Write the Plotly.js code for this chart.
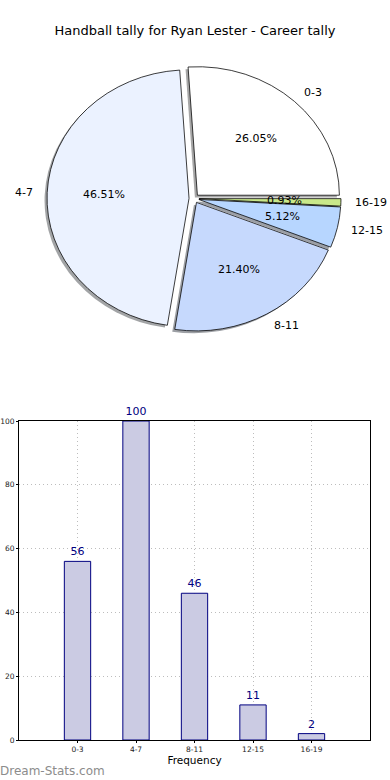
<!DOCTYPE html>
<html>
<head>
<meta charset="utf-8">
<script src="https://cdn.plot.ly/plotly-3.0.1.min.js"></script>
<style>html,body{margin:0;padding:0;background:#fff;}#chart{width:390px;height:780px;}</style>
</head>
<body>
<div id="chart"></div>
<script>
// ---- data ----
var titleText = 'Handball tally for Ryan Lester - Career tally';
var categories = ['0-3', '4-7', '8-11', '12-15', '16-19'];
var counts = [56, 100, 46, 11, 2];
var pieColors = ['#ffffff', '#ebf2ff', '#c6d9fd', '#b7d6ff', '#c9e88a'];
var shadowColors = ['rgba(77,77,77,0.5)', 'rgba(70,73,77,0.5)', 'rgba(59,65,76,0.5)', 'rgba(55,64,77,0.5)', 'rgba(60,70,41,0.5)'];
var yTicks = [0, 20, 40, 60, 80, 100];
var watermark = 'Dream-Stats.com';
var xTitle = 'Frequency';

// ---- geometry ----
var W = 390, H = 780;
var pull = 0.035;
var pcx = 194, pcy = 198.5;   // pie centre, px
var rx = 142, ry = 128.5;     // ellipse radii, px
var half = rx * (1 + pull);
var pieDomain = {
  x: [(pcx - half) / W, (pcx + half) / W],
  y: [1 - (pcy + half) / H, 1 - (pcy - half) / H]
};
var sh = 2.5;
var shadowDomain = {
  x: [pieDomain.x[0] - sh / W, pieDomain.x[1] - sh / W],
  y: [pieDomain.y[0] - sh / H, pieDomain.y[1] - sh / H]
};

var total = counts.reduce(function (a, b) { return a + b; }, 0);
// Plotly (counterclockwise) places the first slice clockwise from `rotation`;
// shift so that the first slice starts at 3 o'clock and runs counterclockwise.
var rot = 90 - counts[0] / total * 360;
var font = 'DejaVu Sans, sans-serif';

var annotations = [];
var cum = 0;
counts.forEach(function (v, i) {
  var t1 = cum / total * 360;
  cum += v;
  var t2 = cum / total * 360;
  var m = (t1 + t2) / 2 * Math.PI / 180;
  var c = Math.cos(m), s = Math.sin(m);
  var ax = pcx + pull * rx * c, ay = pcy - pull * ry * s;
  annotations.push({
    xref: 'paper', yref: 'paper', showarrow: false, borderpad: 0, borderwidth: 0,
    x: (ax + 0.6 * rx * c) / W, y: 1 - (ay - 0.6 * ry * s) / H,
    xanchor: 'center', yanchor: 'middle',
    text: (v / total * 100).toFixed(2) + '%',
    font: { family: font, size: 11, color: '#000' }
  });
  annotations.push({
    xref: 'paper', yref: 'paper', showarrow: false, borderpad: 0, borderwidth: 0,
    x: (ax + 1.1 * rx * c) / W, y: 1 - (ay - 1.1 * ry * s) / H,
    xanchor: c >= 0 ? 'left' : 'right', yanchor: 'middle',
    text: categories[i],
    font: { family: font, size: 11, color: '#000' }
  });
});

annotations.push({
  xref: 'paper', yref: 'paper', showarrow: false, borderpad: 0, borderwidth: 0,
  x: 0, y: 1 - 771 / H, xanchor: 'left', yanchor: 'middle',
  text: watermark,
  font: { family: font, size: 12, color: '#8c8c8c' }
});

var shadow = {
  type: 'pie', values: counts, labels: categories, sort: false,
  direction: 'counterclockwise', rotation: rot, pull: pull,
  domain: shadowDomain, textinfo: 'none', hoverinfo: 'skip', showlegend: false,
  marker: { colors: shadowColors, line: { width: 0 } }
};
var pie = {
  type: 'pie', values: counts, labels: categories, sort: false,
  direction: 'counterclockwise', rotation: rot, pull: pull,
  domain: pieDomain, textinfo: 'none', hoverinfo: 'skip', showlegend: false,
  marker: { colors: pieColors, line: { color: '#000', width: 0.8 } }
};
var bars = {
  type: 'bar', x: categories, y: counts, width: 0.45,
  marker: { color: '#cbcbe3', line: { color: '#000080', width: 1 } },
  text: counts.map(String), textposition: 'outside', cliponaxis: false,
  constraintext: 'none',
  textfont: { family: font, size: 11, color: '#000080' },
  hoverinfo: 'skip', showlegend: false
};

var layout = {
  width: W, height: H,
  margin: { l: 0, r: 0, t: 0, b: 0 },
  paper_bgcolor: '#fff', plot_bgcolor: '#fff',
  font: { family: font, color: '#000' },
  title: {
    text: titleText, font: { family: font, size: 13, color: '#000' },
    x: 0.5, xanchor: 'center', y: 1 - 30 / H, yanchor: 'middle', yref: 'container'
  },
  xaxis: {
    domain: [19 / W, 370 / W], range: [-1, 5], type: 'category',
    showgrid: true, gridcolor: '#bdbdbd', griddash: '1px,3px', gridwidth: 1,
    showline: true, linecolor: '#000', linewidth: 1, mirror: true,
    ticks: 'outside', ticklen: 2, tickcolor: '#000',
    tickfont: { family: font, size: 7.5, color: '#222' },
    title: { text: xTitle, font: { family: font, size: 10.5, color: '#000' }, standoff: 3 },
    zeroline: false, fixedrange: true
  },
  yaxis: {
    domain: [40 / H, 359 / H], range: [0, 100], tickvals: yTicks,
    showgrid: true, gridcolor: '#bdbdbd', griddash: '1px,3px', gridwidth: 1,
    showline: true, linecolor: '#000', linewidth: 1, mirror: true,
    ticks: 'outside', ticklen: 2, tickcolor: '#000',
    tickfont: { family: font, size: 7.5, color: '#222' },
    zeroline: false, fixedrange: true
  },
  bargap: 0,
  annotations: annotations
};

Plotly.newPlot('chart', [shadow, pie, bars], layout, { displayModeBar: false, staticPlot: true }).then(function () {
  var k = ry / rx;
  var layer = document.querySelector('.pielayer');
  if (layer) {
    layer.setAttribute('transform', 'translate(0,' + pcy + ') scale(1,' + k + ') translate(0,' + (-pcy) + ')');
  }
});
</script>
</body>
</html>
